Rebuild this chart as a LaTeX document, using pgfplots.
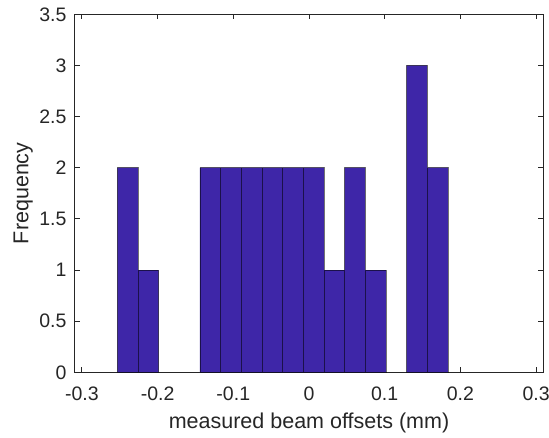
\documentclass[border=0pt]{standalone}
\usepackage{fontspec}
\setmainfont{Liberation Sans}
\usepackage{pgfplots}
\pgfplotsset{compat=1.18}
\definecolor{barc}{RGB}{62,38,168}
\definecolor{axc}{RGB}{38,38,38}
\begin{document}
\begin{tikzpicture}
\begin{axis}[
  scale only axis, width=468.6bp, height=358bp,
  xmin=-0.3095, xmax=0.3095, ymin=0, ymax=3.5,
  xtick={-0.3,-0.2,-0.1,0,0.1,0.2,0.3},
  ytick={0,0.5,1,1.5,2,2.5,3,3.5},
  tick align=inside, major tick length=5bp,
  axis line style={axc, line width=0.9bp},
  tick style={axc, line width=0.9bp},
  ticklabel style={font=\fontsize{19.5bp}{22bp}\selectfont, text=axc},
  /pgf/number format/assume math mode=true,
  xticklabel style={anchor=base, yshift=-27.7bp, inner sep=0pt},
  yticklabel style={anchor=east, xshift=-8bp, inner sep=0pt},
  xlabel={measured beam offsets (mm)}, ylabel={Frequency},
  label style={font=\fontsize{21.5bp}{24bp}\selectfont, text=axc},
  xlabel style={at={(axis description cs:0.5,-0.1556)}, anchor=base},
  ylabel style={at={(axis description cs:-0.0986,0.5)}, anchor=base},
]
\addplot[ybar interval, fill=barc, draw=black, draw opacity=0.55, line width=0.75bp]
  coordinates {(-0.25320,2) (-0.22591,1) (-0.19862,0)};
\addplot[ybar interval, fill=barc, draw=black, draw opacity=0.55, line width=0.75bp]
  coordinates {(-0.14404,2) (-0.11675,2) (-0.08946,2) (-0.06217,2) (-0.03488,2)
               (-0.00759,2) (0.01970,1) (0.04699,2) (0.07428,1) (0.10157,0)};
\addplot[ybar interval, fill=barc, draw=black, draw opacity=0.55, line width=0.75bp]
  coordinates {(0.12886,3) (0.15615,2) (0.18344,0)};
\end{axis}
\pgfresetboundingbox
\path ([shift={(-74.7bp,-64.7bp)}]current axis.south west) rectangle ([shift={(5.7bp,14.3bp)}]current axis.north east);
\end{tikzpicture}
\end{document}
